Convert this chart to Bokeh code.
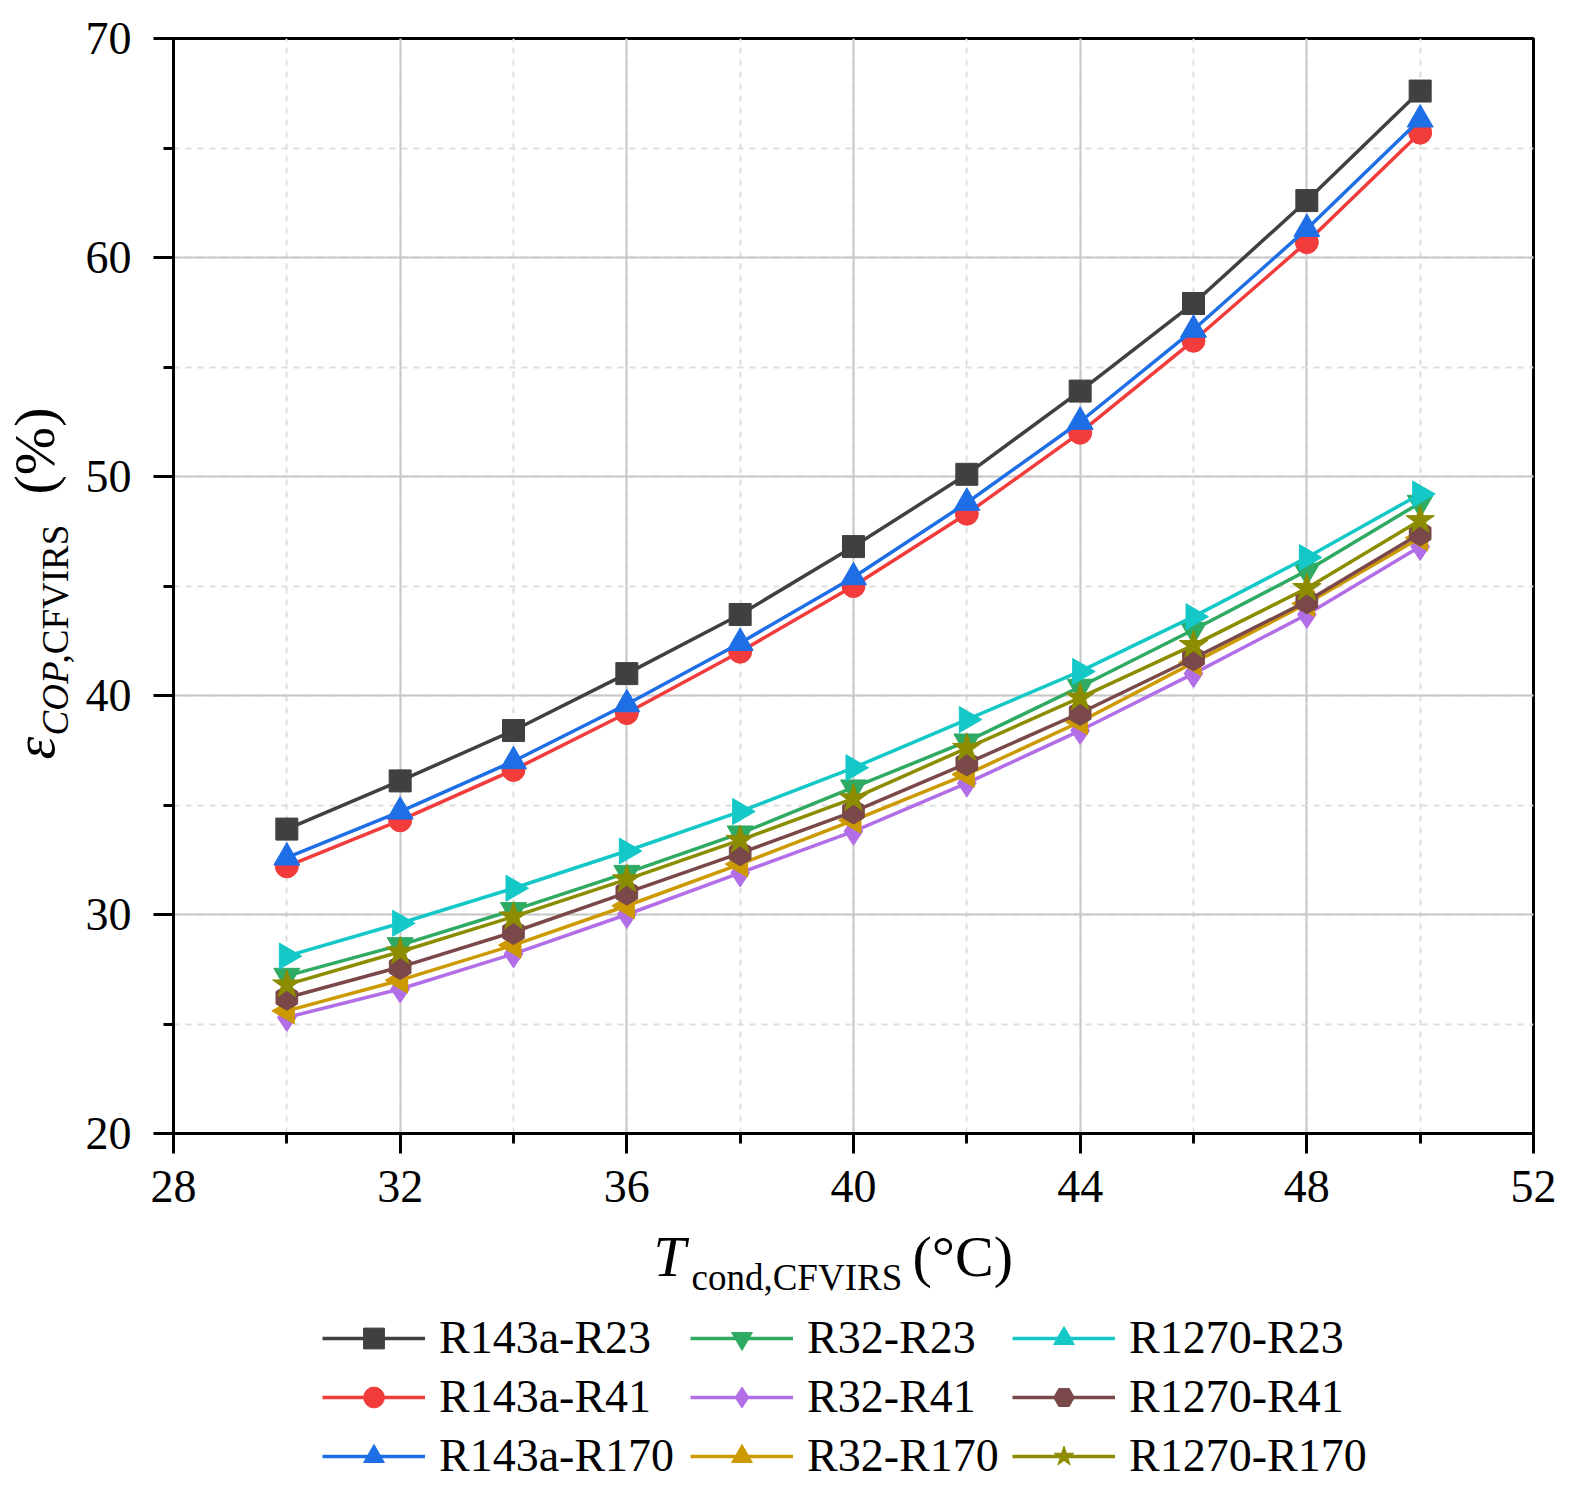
import math
from bokeh.plotting import figure
from bokeh.layouts import column, row
from bokeh.models import Range1d, SingleIntervalTicker, Legend, LegendItem, Label
from bokeh.embed import file_html
from bokeh.resources import INLINE

# ---------------- data ----------------
t_cond = [30, 32, 34, 36, 38, 40, 42, 44, 46, 48, 50]

r143a_r23 = [33.9, 36.1, 38.4, 41.0, 43.7, 46.8, 50.1, 53.9, 57.9, 62.6, 67.6]
r143a_r41 = [32.2, 34.3, 36.6, 39.2, 42.0, 45.0, 48.3, 52.0, 56.2, 60.7, 65.7]
r143a_r170 = [32.6, 34.7, 37.0, 39.6, 42.4, 45.4, 48.8, 52.5, 56.7, 61.3, 66.3]
r32_r23 = [27.2, 28.6, 30.2, 31.9, 33.7, 35.8, 37.9, 40.4, 43.0, 45.7, 48.8]
r32_r41 = [25.3, 26.6, 28.2, 30.0, 31.9, 33.8, 36.0, 38.4, 41.0, 43.7, 46.8]
r32_r170 = [25.6, 27.0, 28.6, 30.4, 32.3, 34.3, 36.4, 38.8, 41.5, 44.2, 47.2]
r1270_r23 = [28.1, 29.6, 31.2, 32.9, 34.7, 36.7, 38.9, 41.1, 43.6, 46.3, 49.2]
r1270_r41 = [26.2, 27.6, 29.2, 31.0, 32.8, 34.7, 36.9, 39.2, 41.7, 44.3, 47.4]
r1270_r170 = [26.8, 28.3, 29.9, 31.6, 33.4, 35.3, 37.6, 39.9, 42.3, 44.9, 48.0]

series_names = ["R143a-R23", "R143a-R41", "R143a-R170",
                "R32-R23", "R32-R41", "R32-R170",
                "R1270-R23", "R1270-R41", "R1270-R170"]
series_values = [r143a_r23, r143a_r41, r143a_r170,
                 r32_r23, r32_r41, r32_r170,
                 r1270_r23, r1270_r41, r1270_r170]
series_colors = ["#404040", "#f23c3c", "#1e6ee6",
                 "#2eaa62", "#b26ee6", "#cc9a00",
                 "#14c8c8", "#7a4848", "#8c8c00"]
series_markers = ["square", "circle", "triangle",
                  "inverted_triangle", "diamond", "triangle",
                  "triangle", "hex", "star"]
series_angles = [0, 0, 0, 0, 0, math.pi / 2, -math.pi / 2, math.pi / 6, 0]
series_sizes = [22, 23, 26, 26, 28, 26, 26, 25, 30]

FONT = "Liberation Serif"

# ---------------- main plot ----------------
main = figure(width=1489, height=1223, output_backend="svg", toolbar_location=None,
              x_range=Range1d(28, 52), y_range=Range1d(20, 70),
              min_border_left=93, min_border_right=36,
              min_border_top=38, min_border_bottom=90)
main.background_fill_color = "white"
main.border_fill_color = "white"
main.outline_line_color = "black"
main.outline_line_width = 3

main.xaxis.ticker = SingleIntervalTicker(interval=4, num_minor_ticks=2)
main.yaxis.ticker = SingleIntervalTicker(interval=10, num_minor_ticks=2)
main.xgrid.ticker = main.xaxis.ticker
main.ygrid.ticker = main.yaxis.ticker

for ax in (main.xaxis[0], main.yaxis[0]):
    ax.axis_line_width = 3
    ax.axis_line_color = "black"
    ax.major_tick_line_width = 3
    ax.minor_tick_line_width = 3
    ax.major_tick_out = 20
    ax.major_tick_in = 0
    ax.minor_tick_out = 10
    ax.minor_tick_in = 0
    ax.major_label_text_font = FONT
    ax.major_label_text_font_size = "46px"
    ax.major_label_text_color = "black"
    ax.axis_label = None
main.xaxis.major_label_standoff = 17
main.yaxis.major_label_standoff = 22

for g in (main.xgrid[0], main.ygrid[0]):
    g.grid_line_color = "#c8c8c8"
    g.grid_line_width = 2
    g.minor_grid_line_color = "#dedede"
    g.minor_grid_line_width = 2
    g.minor_grid_line_dash = "6 6"

for vals, col, mk, ang, sz in zip(series_values, series_colors, series_markers,
                                  series_angles, series_sizes):
    main.line(t_cond, vals, line_color=col, line_width=3.5)
    main.scatter(t_cond, vals, marker=mk, size=sz, angle=ang,
                 fill_color=col, line_color=col)


def blank(w, h):
    f = figure(width=w, height=h, output_backend="svg", toolbar_location=None,
               x_range=Range1d(0, w), y_range=Range1d(0, h),
               x_axis_type=None, y_axis_type=None,
               min_border_left=0, min_border_right=0,
               min_border_top=0, min_border_bottom=0)
    f.grid.visible = False
    f.outline_line_color = None
    f.background_fill_color = "white"
    f.border_fill_color = "white"
    return f


def piece(f, x, y, text, size, style="normal", angle=0.0):
    f.add_layout(Label(x=x, y=y, x_units="screen", y_units="screen", text=text,
                       text_font=FONT, text_font_size=size, text_font_style=style,
                       text_color="black", angle=angle,
                       text_align="left", text_baseline="alphabetic"))


# ---------------- y title (frame of this strip lines up with the main frame) ----------------
yfig = blank(80, 1223)
a = math.pi / 2
piece(yfig, 34, 374, "ε", "58px", "italic", a)
piece(yfig, 55, 398, "COP", "37px", "italic", a)
piece(yfig, 55, 470, ",CFVIRS", "37px", "normal", a)
piece(yfig, 34, 639, "(%)", "58px", "normal", a)

# ---------------- x title + legend ----------------
bottom = blank(1569, 270)
piece(bottom, 653, 237, "T", "58px", "italic")
piece(bottom, 691, 216, "cond,CFVIRS", "37px")
piece(bottom, 912, 237, "(°C)", "58px")

# legend entries: hidden copies of each series (same data, same style)
items = []
for name, vals, col, mk, ang in zip(series_names, series_values, series_colors,
                                    series_markers, series_angles):
    ln = bottom.line(t_cond, vals, line_color=col, line_width=3.5, visible=False)
    sc = bottom.scatter(t_cond, vals, marker=mk, angle=ang, fill_color=col,
                        line_color=col, visible=False)
    items.append(LegendItem(label=name, renderers=[ln, sc]))

col_x = [322, 690, 1012]
for c in range(3):
    lg = Legend(items=items[3 * c:3 * c + 3], location=(col_x[c], 11),
                orientation="vertical",
                label_text_font=FONT, label_text_font_size="46px",
                label_text_color="black",
                glyph_width=103, glyph_height=52, label_height=52,
                label_standoff=14, spacing=6, padding=0, margin=0,
                border_line_alpha=0, background_fill_alpha=0,
                inactive_fill_alpha=0)
    bottom.add_layout(lg, "center")

layout = column(row(yfig, main, spacing=0), bottom, spacing=0)

open("out.html", "w").write(file_html(layout, INLINE))
